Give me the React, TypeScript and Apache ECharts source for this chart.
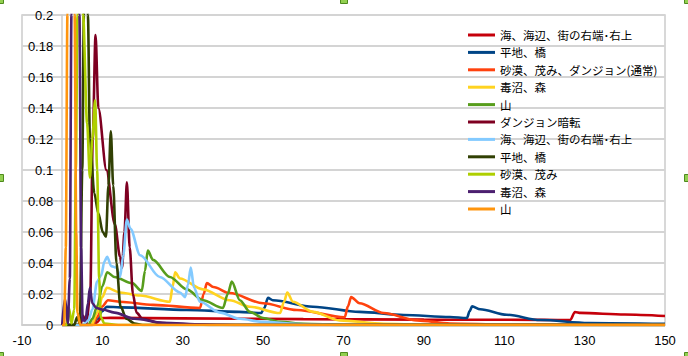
import React, { useEffect, useRef } from "react";
import * as echarts from "echarts";

const xTicks = { min: -10, max: 150, interval: 20 };
const yTicks = { min: 0, max: 0.2, interval: 0.02 };

const seriesNames = [
  "海、海辺、街の右端･右上",
  "平地、橋",
  "砂漠、茂み、ダンジョン(通常)",
  "毒沼、森",
  "山",
  "ダンジョン暗転",
  "海、海辺、街の右端･右上",
  "平地、橋",
  "砂漠、茂み",
  "毒沼、森",
  "山",
];

const colors = [
  "#c5000b", "#004586", "#ff420e", "#ffd320", "#579d1c", "#7e0021",
  "#83caff", "#314004", "#aecf00", "#4b1f6f", "#ff950e",
];

const redSea = [[0,0],[8,0],[8.8,0.002],[9.6,0.0045],[12,0.0046],[30,0.0043],[60,0.0038],[90,0.0035],[120,0.0033],[126.4,0.0032],[127.6,0.0084],[129,0.0078],[140,0.0068],[150,0.0058]];
const bluePlain = [[0,0],[7.5,0],[8.7,0.004],[10,0.009],[11.1,0.0118],[14.4,0.0114],[31,0.0097],[44,0.0085],[49.5,0.0077],[50.3,0.011],[51.2,0.0175],[52.4,0.016],[62.4,0.0118],[74,0.0085],[85,0.0065],[96.5,0.0052],[100.7,0.0045],[101.4,0.009],[102,0.012],[104,0.0102],[110.6,0.0066],[119,0.0032],[131,0.0013],[150,0.0007]];
const orangeDesert = [[0,0],[7.5,0],[8.7,0.005],[10,0.012],[11.4,0.016],[14.4,0.015],[22.6,0.013],[34.3,0.011],[35.2,0.02],[36,0.027],[37.6,0.0245],[41.7,0.0206],[50,0.014],[58.4,0.0097],[70.3,0.005],[71.1,0.012],[71.9,0.018],[74,0.014],[80,0.0077],[88.3,0.003],[96.5,0.001],[110,0.0002],[150,0]];
const yellowSwamp = [[0,0],[7.3,0],[8.7,0.008],[10,0.018],[11.1,0.024],[14.4,0.021],[19.4,0.019],[26.8,0.015],[27.5,0.025],[28.1,0.034],[29.3,0.03],[35,0.023],[41.7,0.016],[46.7,0.0118],[54.2,0.0077],[55.2,0.015],[56,0.021],[57.4,0.015],[62.4,0.0085],[69,0.003],[80,0.0008],[90,0.0002],[150,0]];
const greenMountain = [[0,0],[6.5,0],[7.5,0.004],[8.7,0.012],[10,0.025],[11.2,0.034],[13,0.031],[17.4,0.027],[19.8,0.022],[20.6,0.035],[21.3,0.048],[22.6,0.042],[26.8,0.031],[31,0.023],[35,0.016],[40,0.011],[41.2,0.02],[42.2,0.028],[44.2,0.016],[46.7,0.0085],[50,0.0045],[54.2,0.002],[60,0.0008],[70,0],[150,0]];
const darkRedDungeon = [[0,0],[4.5,0],[5.2,0.006],[6,0.001],[7,0.02],[7.6,0.12],[8.3,0.187],[9,0.14],[11,0.1],[13.1,0.065],[14.4,0.044],[14.9,0.037],[15.5,0.06],[16.1,0.092],[16.8,0.05],[17.6,0.02],[18.5,0.008],[20,0.004],[24,0.0015],[30,0.0005],[40,0],[150,0]];
const lightBlueSea = [[0,0],[5,0],[6.5,0.003],[7.5,0.01],[8.7,0.028],[9.7,0.032],[10.5,0.041],[11.2,0.044],[12.2,0.038],[13.5,0.037],[14.4,0.031],[15.2,0.045],[16.1,0.068],[17,0.062],[19.4,0.045],[24.3,0.031],[29.3,0.021],[30.6,0.018],[31.3,0.026],[32,0.037],[32.8,0.024],[34.3,0.015],[39.3,0.008],[44.2,0.004],[50,0.002],[60,0.0005],[70,0],[150,0]];
const oliveFlat = [[0,0],[3,0],[3.7,0.005],[4.4,0.001],[5,0.1],[5.4,0.2],[5.9,0.26],[6.4,0.2],[6.9,0.12],[8,0.085],[9,0.072],[10.1,0.06],[10.9,0.057],[11.5,0.09],[12.1,0.125],[12.7,0.09],[13.5,0.04],[14.5,0.012],[16,0.004],[18,0.001],[20,0],[150,0]];
const limeDesert = [[0,0],[1.1,0],[1.7,0.011],[2.3,0.001],[3,0.01],[3.4,0.1],[3.8,0.2],[4.4,0.26],[5.2,0.2],[6.2,0.13],[6.9,0.095],[7.5,0.12],[8.2,0.145],[8.7,0.1],[9.2,0.03],[9.6,0.005],[10.5,0.001],[14,0],[150,0]];
const purpleSwamp = [[0,0],[0.7,0.017],[1.4,0.001],[1.9,0.03],[2.3,0.2],[3.3,0.33],[4.3,0.2],[4.7,0.05],[5.1,0.003],[5.8,0.003],[6.4,0.014],[6.9,0.024],[7.5,0.014],[8.5,0.011],[10,0.01],[13,0.008],[18,0.004],[25,0.0015],[35,0.0003],[45,0],[150,0]];
const orangeMountain = [[0,0],[0.5,0],[0.9,0.05],[1.3,0.2],[2.2,0.33],[3.1,0.2],[3.5,0.06],[3.8,0.008],[4.5,0],[150,0]];

const seriesData = [redSea, bluePlain, orangeDesert, yellowSwamp, greenMountain, darkRedDungeon, lightBlueSea, oliveFlat, limeDesert, purpleSwamp, orangeMountain];

const GRID_LEFT = 22;
const GRID_RIGHT = 23;
const CHART_W = 688;

export default function App() {
  const ref = useRef<HTMLDivElement>(null);
  useEffect(() => {
    document.body.style.margin = "0";
    const chart = echarts.init(ref.current!, null, { renderer: "svg" });
    const handles: any[] = [];
    const hx = [0, 344, 688];
    const hy = [0, 178, 356];
    hx.forEach((x) =>
      hy.forEach((y) => {
        if (x === 344 && y === 178) return;
        handles.push({
          type: "rect",
          shape: { x: x - 3.5, y: y - 3.5, width: 7, height: 7 },
          style: { fill: "#92d050", stroke: "#4f8a1e", lineWidth: 1 },
          z: 100,
        });
      })
    );
    // y axis crosses the x axis at x = 0
    const plotW = CHART_W - GRID_LEFT - GRID_RIGHT;
    const zeroOffset = ((0 - xTicks.min) / (xTicks.max - xTicks.min)) * plotW;
    chart.setOption({
      animation: false,
      backgroundColor: "#ffffff",
      color: colors,
      grid: {
        left: GRID_LEFT,
        right: GRID_RIGHT,
        top: 15,
        bottom: 31,
        show: true,
        borderColor: "#cccccc",
        borderWidth: 1.5,
        containLabel: false,
        outerBoundsMode: "none",
      },
      legend: {
        orient: "vertical",
        left: 468,
        top: 28,
        padding: 0,
        itemGap: 3.4,
        itemWidth: 27,
        itemHeight: 3,
        icon: "rect",
        textStyle: {
          fontFamily: "Noto Sans CJK JP",
          fontSize: 11.5,
          color: "#000",
          lineHeight: 14,
          padding: [0, 0, 0, 0],
        },
        data: seriesNames.map((n, i) => ({ name: n + "\u200b".repeat(i >= 6 ? 1 : 0) })),
      },
      xAxis: {
        type: "value",
        min: xTicks.min,
        max: xTicks.max,
        interval: xTicks.interval,
        axisLine: { show: true, onZero: false, lineStyle: { color: "#cccccc", width: 1.5 } },
        axisTick: { show: false },
        splitLine: { show: false },
        axisLabel: {
          color: "#000",
          fontFamily: "Liberation Sans",
          fontSize: 13,
          margin: 9,
        },
      },
      yAxis: {
        type: "value",
        min: yTicks.min,
        max: yTicks.max,
        interval: yTicks.interval,
        offset: -zeroOffset,
        axisLine: { show: true, onZero: false, lineStyle: { color: "#cccccc", width: 1.5 } },
        axisTick: { show: false },
        splitLine: { show: true, lineStyle: { color: "#d4d4d4", width: 2 } },
        axisLabel: {
          color: "#000",
          fontFamily: "Liberation Sans",
          fontSize: 13,
          margin: 9,
          formatter: (v: number) => String(+v.toFixed(2)),
        },
      },
      graphic: handles,
      series: seriesData.map((d, i) => ({
        name: seriesNames[i] + "\u200b".repeat(i >= 6 ? 1 : 0),
        type: "line",
        data: d,
        showSymbol: false,
        symbol: "none",
        smooth: 0.3,
        smoothMonotone: "x",
        clip: true,
        lineStyle: { width: 2.6, color: colors[i] },
        itemStyle: { color: colors[i] },
      })),
    });
    return () => chart.dispose();
  }, []);
  return <div ref={ref} style={{ width: 688, height: 356 }} />;
}
